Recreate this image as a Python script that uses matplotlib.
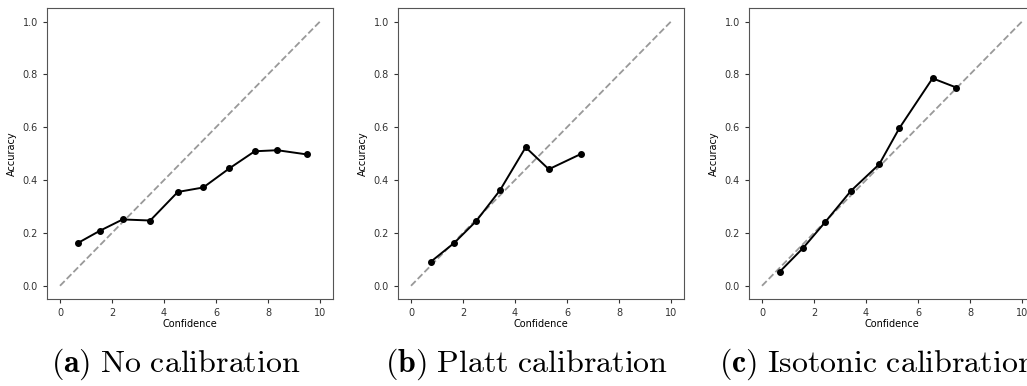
import matplotlib
matplotlib.use("Agg")
import matplotlib.pyplot as plt

plt.rcParams['mathtext.fontset'] = 'cm'

conf_a = [0.69, 1.53, 2.41, 3.47, 4.53, 5.51, 6.51, 7.49, 8.36, 9.50]
acc_a = [0.162, 0.208, 0.251, 0.247, 0.355, 0.372, 0.444, 0.509, 0.513, 0.497]

conf_b = [0.75, 1.66, 2.50, 3.42, 4.41, 5.30, 6.54]
acc_b = [0.090, 0.162, 0.244, 0.361, 0.524, 0.441, 0.499]

conf_c = [0.69, 1.59, 2.43, 3.42, 4.51, 5.28, 6.56, 7.48]
acc_c = [0.054, 0.144, 0.241, 0.359, 0.460, 0.596, 0.785, 0.750]

diag_x = [0, 10]
diag_y = [0, 1]

captions = [r'$\mathbf{(a)}\ \mathrm{No\ calibration}$',
            r'$\mathbf{(b)}\ \mathrm{Platt\ calibration}$',
            r'$\mathbf{(c)}\ \mathrm{Isotonic\ calibration}$']

W, H = 1027, 386
fig = plt.figure(figsize=(W / 100, H / 100), dpi=100)

lefts = [47, 398, 749]
ax_w = 286
top, bottom = 8.3, 299
series = [(conf_a, acc_a), (conf_b, acc_b), (conf_c, acc_c)]

for i, (xs, ys) in enumerate(series):
    ax = fig.add_axes([lefts[i] / W, 1 - bottom / H, ax_w / W, (bottom - top) / H])
    ax.plot(diag_x, diag_y, linestyle='--', color='#999999', lw=1.3)
    ax.plot(xs, ys, '-o', color='black', lw=1.4, markersize=4)
    ax.set_xticks([0, 2, 4, 6, 8, 10])
    ax.set_yticks([0.0, 0.2, 0.4, 0.6, 0.8, 1.0])
    ax.tick_params(labelsize=7, colors='#333333', length=3)
    ax.set_xlabel('Confidence', fontsize=7, labelpad=1)
    ax.set_ylabel('Accuracy', fontsize=7)
    for s in ax.spines.values():
        s.set_color('#555555')
    cx = (lefts[i] + ax_w / 2 - 14) / W
    fig.text(cx, 1 - 364 / H, captions[i], ha='center', va='center', fontsize=23)

fig.savefig('out.png', dpi=100)
